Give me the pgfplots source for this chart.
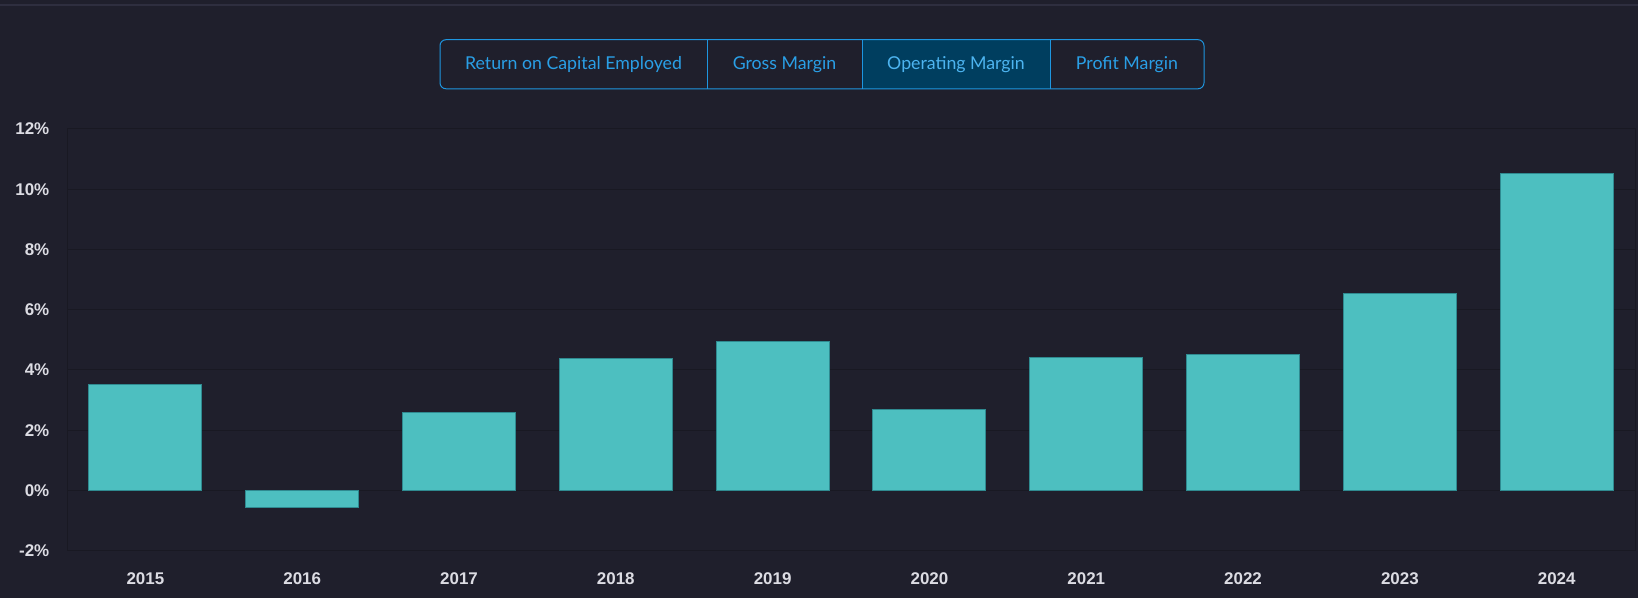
\documentclass[border=0pt]{standalone}
\usepackage{fontspec}
\setmainfont{Liberation Sans}
\newfontfamily\lato{Lato}
\newfontfamily\tickfont{Liberation Sans Bold}
\usepackage{pgfplots}
\pgfplotsset{compat=1.18}
\definecolor{bg}{HTML}{1F1F2C}
\definecolor{gridc}{HTML}{191923}
\definecolor{barc}{HTML}{4DBFC0}
\definecolor{barb}{HTML}{2F8A90}
\definecolor{tickc}{HTML}{DCDCE3}
\definecolor{btn}{HTML}{1E96E0}
\definecolor{btntxt}{HTML}{2A9FE6}
\definecolor{btnseltxt}{HTML}{4DB4F0}
\definecolor{btnsel}{HTML}{003E5F}
\definecolor{topl}{HTML}{2E2E3F}
\begin{document}
\begin{tikzpicture}[x=1bp,y=1bp]
\fill[bg] (0,0) rectangle (1638,598);
\useasboundingbox (0,0) rectangle (1638,598);
\draw[topl, line width=1.5bp] (0,593) -- (1638,593);
% buttons
\fill[btnsel] (862,509.2) rectangle (1050,558.3);
\draw[btn, line width=1bp, rounded corners=6bp] (440,509.2) rectangle (1204,558.3);
\draw[btn, line width=1bp] (707,509.2) -- (707,558.3) (862,509.2) -- (862,558.3) (1050,509.2) -- (1050,558.3);
\begin{scope}[every node/.style={font=\lato\fontsize{17.8}{21}\selectfont, text=btntxt, inner sep=0pt}]
\node at (573.5,533.75) {Return on Capital Employed};
\node at (784.5,533.75) {Gross Margin};
\node[text=btnseltxt] at (956,533.75) {Operating Margin};
\node at (1127,533.75) {Profit Margin};
\end{scope}
\begin{axis}[
  at={(67bp,47.3bp)}, anchor=south west,
  scale only axis, width=1568bp, height=421.7bp,
  xmin=-0.5, xmax=9.5, ymin=-2, ymax=12,
  xtick=data,
  xticklabels={2015,2016,2017,2018,2019,2020,2021,2022,2023,2024},
  ytick={-2,0,2,4,6,8,10,12},
  yticklabels={-2\%,0\%,2\%,4\%,6\%,8\%,10\%,12\%},
  major tick length=0pt,
  ymajorgrids, grid style={draw=gridc, line width=1bp},
  axis line style={draw=gridc, line width=1bp},
  ticklabel style={font=\tickfont\fontsize{17}{20}\selectfont, text=tickc, inner sep=0pt},
  yticklabel style={anchor=east, xshift=-17.5bp},
  xticklabel style={anchor=center, yshift=-27.5bp},
  /pgf/number format/assume math mode=true,
]
\addplot[ybar, bar width=113bp, fill=barc, draw=barb, line width=1bp] coordinates {
(0,3.51) (1,-0.58) (2,2.60) (3,4.38) (4,4.95) (5,2.68) (6,4.43) (7,4.50) (8,6.54) (9,10.52)
};
\end{axis}
\end{tikzpicture}
\end{document}
